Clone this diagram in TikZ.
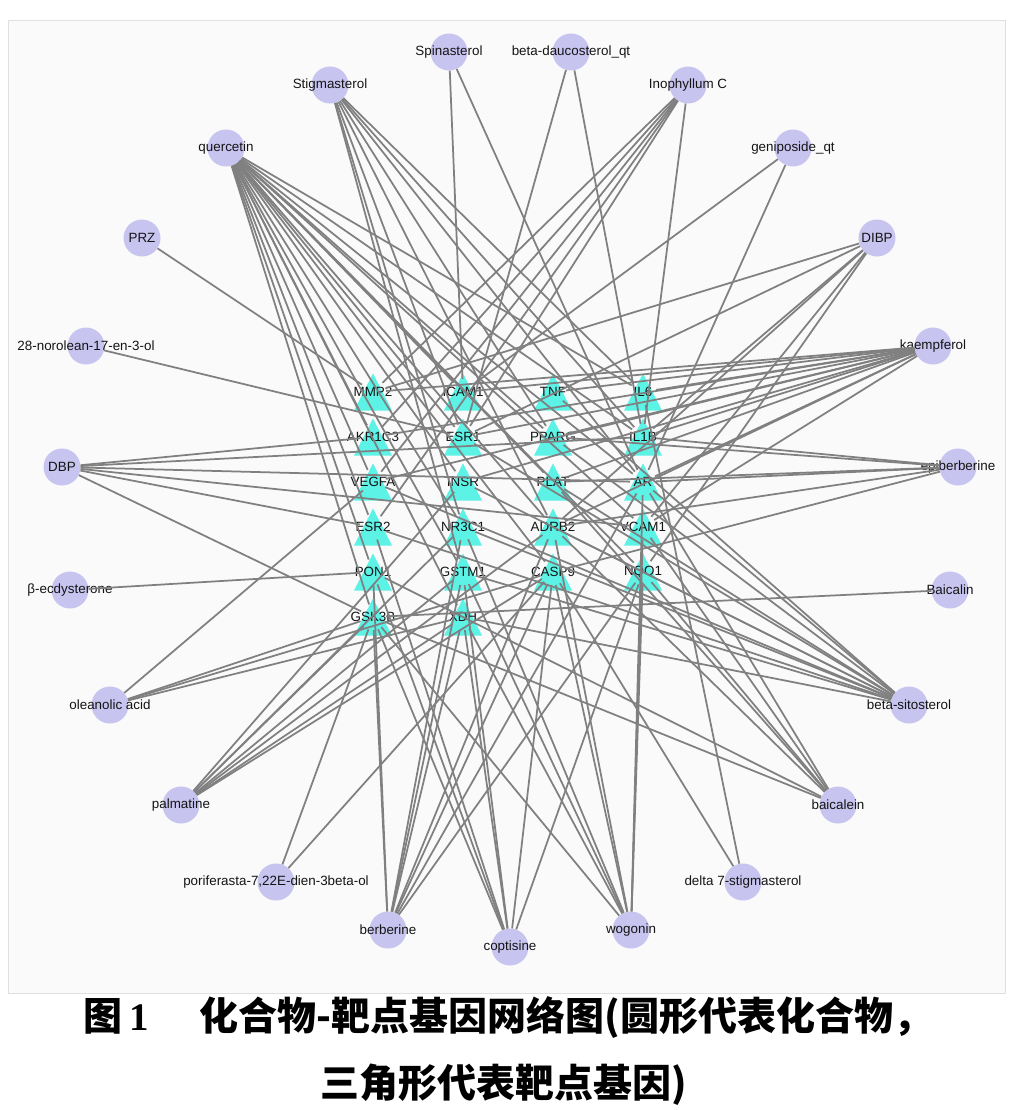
\documentclass[tikz,border=0pt]{standalone}
\usepackage{fontspec}
\setmainfont{Liberation Sans}
\newfontfamily\cjk{Noto Sans CJK SC}
\newfontfamily\capnum{Liberation Serif}
\definecolor{cmpfill}{RGB}{200,196,240}
\definecolor{genefill}{RGB}{92,242,230}
\definecolor{edgecol}{RGB}{128,128,128}
\tikzset{
  cnode/.style={circle,fill=cmpfill,minimum size=37pt,inner sep=0pt},
  gnode/.style={circle,minimum size=26pt,inner sep=0pt},
  lbl/.style={font=\fontsize{13.4}{15}\selectfont,text=black!92,inner sep=0pt},
  edge/.style={draw=edgecol,line width=1.75pt},
  tri/.style={fill=genefill},
  captxt/.style={font=\cjk\bfseries\fontsize{39}{43}\selectfont,inner sep=0pt},
}
\newcommand{\genenode}[3]{%
  \fill[tri] (#2-19,#3+18.5) -- (#2+19,#3+18.5) -- (#2,#3-18.5) -- cycle;
  \node[gnode] (#1) at (#2,#3) {};
  \node[lbl] at (#2,#3) {#1};}
\newcommand{\cmpnode}[4]{%
  \node[cnode] (#1) at (#2,#3) {};
  \node[lbl] at (#2,#3) {#4};}
\begin{document}
\begin{tikzpicture}[x=1pt,y=-1pt]
\useasboundingbox (0,0) rectangle (1014,1110);
\fill[white] (0,0) rectangle (1014,1110);
\draw[black!12,fill=black!2] (8,20) rectangle (1005,993);
% genes
\genenode{MMP2}{373}{392}
\genenode{ICAM1}{463}{392}
\genenode{TNF}{553}{392}
\genenode{IL6}{643}{392}
\genenode{AKR1C3}{373}{437}
\genenode{ESR1}{463}{437}
\genenode{PPARG}{553}{437}
\genenode{IL1B}{643}{437}
\genenode{VEGFA}{373}{482}
\genenode{INSR}{463}{482}
\genenode{PLAT}{553}{482}
\genenode{AR}{643}{482}
\genenode{ESR2}{373}{527}
\genenode{NR3C1}{463}{527}
\genenode{ADRB2}{553}{527}
\genenode{VCAM1}{643}{527}
\genenode{PON1}{373}{572}
\genenode{GSTM1}{463}{572}
\genenode{CASP9}{553}{572}
\genenode{NQO1}{643}{572}
\genenode{GSK3B}{373}{617}
\genenode{XDH}{463}{617}
% compounds
\cmpnode{spin}{449}{52}{Spinasterol}
\cmpnode{bdau}{571}{52}{beta-daucosterol\_qt}
\cmpnode{stig}{330}{85}{Stigmasterol}
\cmpnode{ino}{688}{85}{Inophyllum C}
\cmpnode{quer}{226}{148}{quercetin}
\cmpnode{geni}{793}{148}{geniposide\_qt}
\cmpnode{prz}{142}{238}{PRZ}
\cmpnode{dibp}{877}{238}{DIBP}
\cmpnode{nor}{86}{346}{28-norolean-17-en-3-ol}
\cmpnode{kaem}{933}{346}{kaempferol}
\cmpnode{dbp}{62}{467}{DBP}
\cmpnode{epib}{958}{467}{epiberberine}
\cmpnode{ecdy}{70}{590}{β-ecdysterone}
\cmpnode{bcln}{950}{590}{Baicalin}
\cmpnode{olea}{110}{705}{oleanolic acid}
\cmpnode{bsit}{909}{705}{beta-sitosterol}
\cmpnode{palm}{181}{805}{palmatine}
\cmpnode{bcle}{838}{805}{baicalein}
\cmpnode{pori}{276}{882}{poriferasta-7,22E-dien-3beta-ol}
\cmpnode{dlt}{743}{882}{delta 7-stigmasterol}
\cmpnode{berb}{388}{930}{berberine}
\cmpnode{copt}{510}{947}{coptisine}
\cmpnode{wogo}{631}{930}{wogonin}
% edges
\foreach \g in {ICAM1,AR} \draw[edge] (spin) -- (\g);
\foreach \g in {ESR1,IL1B} \draw[edge] (bdau) -- (\g);
\foreach \g in {GSTM1,NR3C1,ESR1,ADRB2,PPARG,AR,IL1B,IL6} \draw[edge] (stig) -- (\g);
\foreach \g in {MMP2,AKR1C3,VEGFA,ESR2,ESR1,IL1B} \draw[edge] (ino) -- (\g);
\foreach \g in {AKR1C3,VEGFA,ESR2,PON1,GSK3B,ICAM1,ESR1,INSR,NR3C1,GSTM1,XDH,PPARG,PLAT,ADRB2,CASP9,IL6,IL1B,AR,VCAM1,NQO1} \draw[edge] (quer) -- (\g);
\foreach \g in {ICAM1,AR} \draw[edge] (geni) -- (\g);
\foreach \g in {MMP2} \draw[edge] (prz) -- (\g);
\foreach \g in {MMP2,ESR1,IL1B,ADRB2,VCAM1,NQO1} \draw[edge] (dibp) -- (\g);
\foreach \g in {ESR1} \draw[edge] (nor) -- (\g);
\foreach \g in {MMP2,ICAM1,TNF,IL6,AKR1C3,ESR1,PPARG,IL1B,VEGFA,INSR,PLAT,AR,ADRB2,VCAM1} \draw[edge] (kaem) -- (\g);
\foreach \g in {AKR1C3,IL1B,AR,VCAM1,ESR2,GSK3B} \draw[edge] (dbp) -- (\g);
\foreach \g in {IL1B,PPARG,AR,PLAT,CASP9,ADRB2} \draw[edge] (epib) -- (\g);
\foreach \g in {PON1} \draw[edge] (ecdy) -- (\g);
\foreach \g in {GSK3B} \draw[edge] (bcln) -- (\g);
\foreach \g in {VEGFA,GSK3B,XDH,CASP9} \draw[edge] (olea) -- (\g);
\foreach \g in {XDH,GSTM1,NR3C1,ESR2,VEGFA,INSR,ESR1,PLAT,PPARG,AR,TNF,ADRB2} \draw[edge] (bsit) -- (\g);
\foreach \g in {GSK3B,XDH,GSTM1,NR3C1,INSR,CASP9,ADRB2} \draw[edge] (palm) -- (\g);
\foreach \g in {GSK3B,PON1,ADRB2,VCAM1,AR,PLAT,NQO1} \draw[edge] (bcle) -- (\g);
\foreach \g in {GSK3B,CASP9} \draw[edge] (pori) -- (\g);
\foreach \g in {CASP9,IL6} \draw[edge] (dlt) -- (\g);
\foreach \g in {GSK3B,PON1,XDH,GSTM1,NR3C1,CASP9,ADRB2,NQO1,AR} \draw[edge] (berb) -- (\g);
\foreach \g in {GSK3B,PON1,XDH,GSTM1,CASP9,NQO1,ESR2} \draw[edge] (copt) -- (\g);
\foreach \g in {NQO1,VCAM1,AR,CASP9,ADRB2,GSTM1,XDH,GSK3B,NR3C1} \draw[edge] (wogo) -- (\g);
% caption
\node[captxt] (cap1) at (508,1018) {图\,{\capnum\bfseries 1}\hspace{1.3em}化合物-靶点基因网络图(圆形代表化合物，};
\node[captxt] (cap2) at (504,1085) {三角形代表靶点基因)};
\end{tikzpicture}
\end{document}
